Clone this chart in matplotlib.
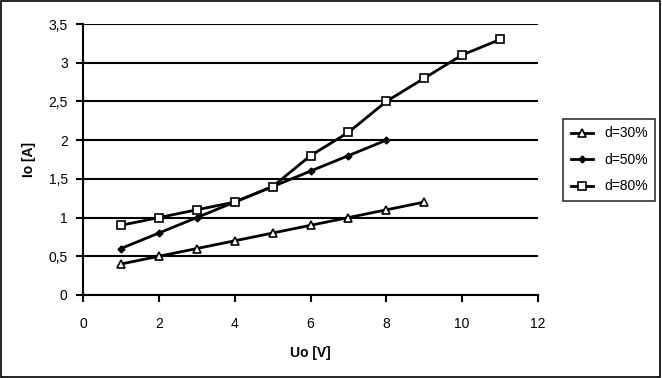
import matplotlib
matplotlib.use("Agg")
import matplotlib.pyplot as plt
from matplotlib.patches import Rectangle
from matplotlib.ticker import FuncFormatter

plt.rcParams['font.family'] = ['Liberation Sans', 'DejaVu Sans']

# data
u30 = [1, 2, 3, 4, 5, 6, 7, 8, 9]
i30 = [0.4, 0.5, 0.6, 0.7, 0.8, 0.9, 1.0, 1.1, 1.2]
u50 = [1, 2, 3, 4, 5, 6, 7, 8]
i50 = [0.6, 0.8, 1.0, 1.2, 1.4, 1.6, 1.8, 2.0]
u80 = [1, 2, 3, 4, 5, 6, 7, 8, 9, 10, 11]
i80 = [0.9, 1.0, 1.1, 1.2, 1.4, 1.8, 2.1, 2.5, 2.8, 3.1, 3.3]

fig = plt.figure(figsize=(6.62, 3.78), dpi=100)
ax = fig.add_axes([0.1254, 0.2196, 0.6873, 0.7169])

ax.plot(u30, i30, color='black', lw=2, marker='^', ms=6,
        mfc='white', mec='black', mew=1.2, label='d=30%')
ax.plot(u50, i50, color='black', lw=2, marker='D', ms=3.5,
        mfc='black', mec='black', label='d=50%')
ax.plot(u80, i80, color='black', lw=2, marker='s', ms=6,
        mfc='white', mec='black', mew=1.2, label='d=80%')

ax.set_xlim(0, 12)
ax.set_ylim(0, 3.5)
ax.set_xticks(range(0, 13, 2))
ax.set_yticks([0, 0.5, 1, 1.5, 2, 2.5, 3, 3.5])
ax.yaxis.set_major_formatter(FuncFormatter(lambda v, p: f"{v:g}".replace('.', ',')))
ax.yaxis.grid(True, color='black', lw=1.5)
ax.set_axisbelow(True)

for s in ['top', 'right']:
    ax.spines[s].set_visible(False)
for s in ['left', 'bottom']:
    ax.spines[s].set_linewidth(1.5)
ax.tick_params(direction='out', length=5, width=1.5, labelsize=10)
ax.tick_params(axis='x', pad=10.5)
ax.tick_params(axis='y', pad=6)

ax.set_xlabel('Uo [V]', fontsize=10, fontweight='bold', labelpad=11)
ax.set_ylabel('Io [A]', fontsize=10, fontweight='bold', labelpad=9)

leg = fig.legend(loc='center', bbox_to_anchor=(0.920, 0.577), fontsize=10,
                 frameon=True, fancybox=False, edgecolor='black',
                 handlelength=1.6, borderpad=0.55, labelspacing=0.9)
leg.get_frame().set_linewidth(1.2)

# outer border
fig.patches.append(Rectangle((0.002, 0.003), 0.995, 0.994, transform=fig.transFigure,
                             fill=False, edgecolor='black', lw=1.2))

fig.savefig('out.png', dpi=100)
